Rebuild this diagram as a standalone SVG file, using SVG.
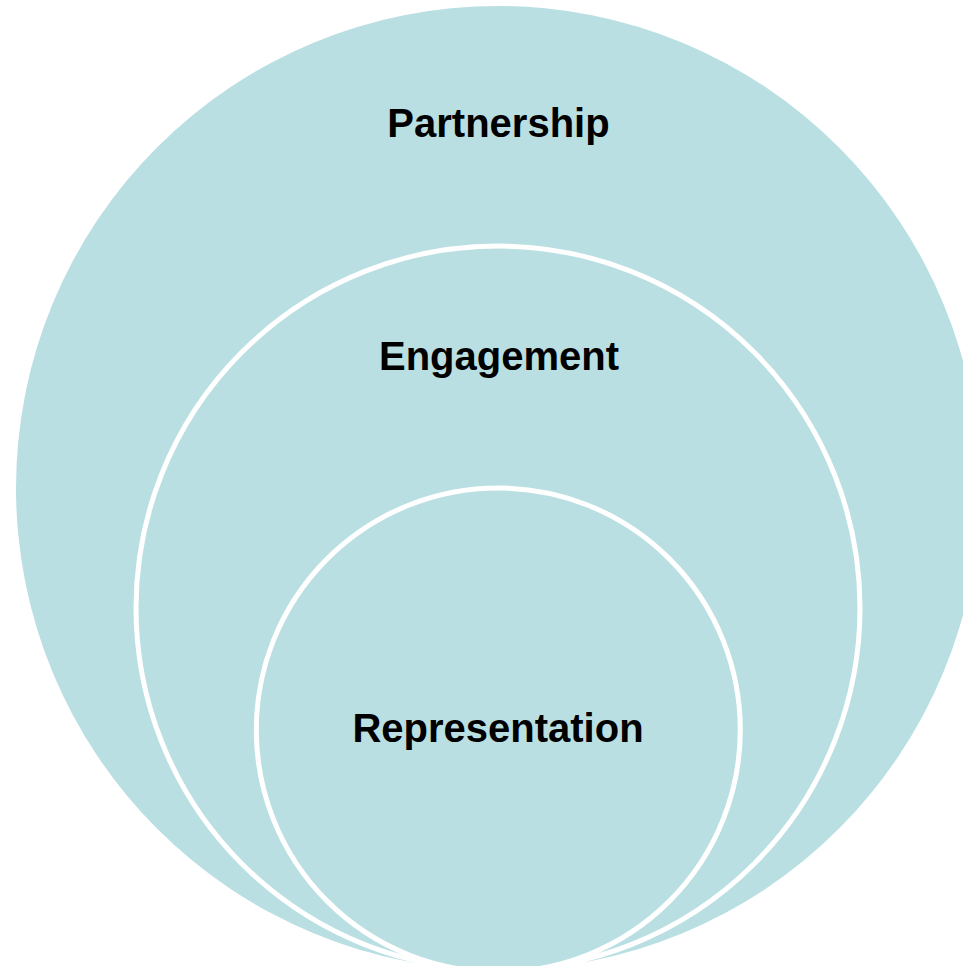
<svg xmlns="http://www.w3.org/2000/svg" width="963" height="966" viewBox="0 0 963 966">
<style>
.ring{fill:#BADFE2;stroke:#FFFFFF;stroke-width:5}
.lbl{font-family:"Liberation Sans",Arial,sans-serif;font-weight:bold;font-size:40px;fill:#000000;text-anchor:middle}
</style>
<rect width="963" height="966" fill="#FFFFFF"/>
<g id="partnership">
<circle cx="498" cy="488" r="482" fill="#BADFE2"/>
<text class="lbl" x="498.5" y="137">Partnership</text>
</g>
<g id="engagement">
<circle class="ring" cx="498" cy="608" r="362"/>
<text class="lbl" x="499" y="370">Engagement</text>
</g>
<g id="representation">
<circle class="ring" cx="498.3" cy="730" r="242"/>
<text class="lbl" x="498" y="742">Representation</text>
</g>
<g id="connectors"/>
</svg>
